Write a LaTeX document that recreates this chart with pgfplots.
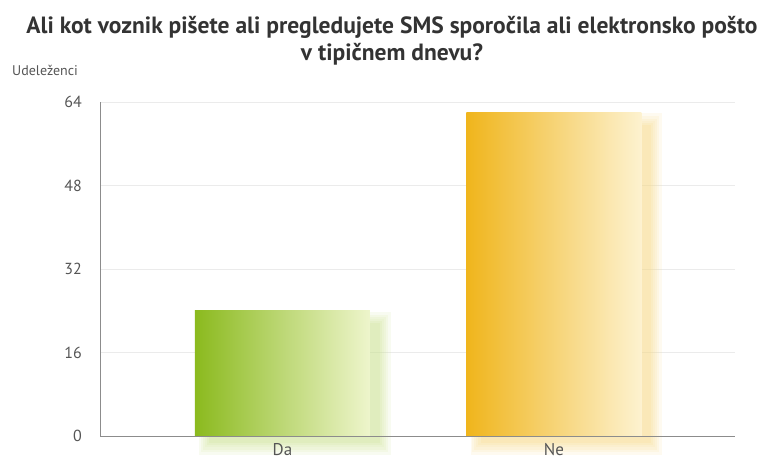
\documentclass[border=0pt]{standalone}
\usepackage{pgfplots}
\pgfplotsset{compat=1.18}
\usepackage{fontspec}
\setmainfont{PT Sans}
\definecolor{titlec}{HTML}{333333}
\definecolor{tickc}{HTML}{555555}
\definecolor{gridc}{HTML}{EBEBEB}
\definecolor{axc}{HTML}{8C8C8C}
\definecolor{gA}{HTML}{8BBA1E}
\definecolor{gB}{HTML}{EEF5CC}
\definecolor{gS}{HTML}{D2E5A0}
\definecolor{yA}{HTML}{F0B51C}
\definecolor{yB}{HTML}{FDF2D0}
\definecolor{yS}{HTML}{F7DE98}
\begin{document}
\begin{tikzpicture}
\useasboundingbox (0,0) rectangle (770pt,459pt);
\node[font=\fontsize{23.5}{27}\selectfont\bfseries, text=titlec, align=center] at (392pt,418pt)
  {Ali kot voznik pišete ali pregledujete SMS sporočila ali elektronsko pošto\\ v tipičnem dnevu?};
\node[font=\fontsize{14}{16}\selectfont, text=tickc, anchor=west, inner sep=0pt] at (12pt,389pt) {Udeleženci};
\begin{axis}[
  at={(100pt,23pt)}, anchor=south west,
  scale only axis, width=635pt, height=334pt,
  xmin=-0.672, xmax=1.667, ymin=0, ymax=64,
  clip=false,
  axis x line=none,
  axis y line*=left,
  y axis line style={draw=axc, line width=0.8pt, -},
  ytick={0,16,32,48,64},
  ymajorgrids, grid style={draw=gridc, line width=0.8pt},
  major tick length=0pt,
  /pgf/number format/assume math mode=true,
  yticklabel style={font=\fontsize{16}{18}\selectfont, text=tickc, inner sep=0pt, xshift=-18pt},
  xtick=\empty,
]
% shadows (layered for a soft edge)
\addplot[fill=gS, draw=none, opacity=0.15] coordinates {(-0.307,-3.6) (0.399,-3.6) (0.399,23.8) (-0.307,23.8)} -- cycle;
\addplot[fill=gS, draw=none, opacity=0.15] coordinates {(-0.300,-3.05) (0.388,-3.05) (0.388,23.25) (-0.300,23.25)} -- cycle;
\addplot[fill=gS, draw=none, opacity=0.15] coordinates {(-0.293,-2.6) (0.381,-2.6) (0.381,22.8) (-0.293,22.8)} -- cycle;
\addplot[fill=gS, draw=none, opacity=0.15] coordinates {(-0.286,-2.2) (0.374,-2.2) (0.374,22.4) (-0.286,22.4)} -- cycle;
\addplot[fill=gS, draw=none, opacity=0.2] coordinates {(-0.278,-1.8) (0.366,-1.8) (0.366,22.0) (-0.278,22.0)} -- cycle;
\addplot[fill=gS, draw=none, opacity=0.25] coordinates {(-0.270,-1.4) (0.358,-1.4) (0.358,21.6) (-0.270,21.6)} -- cycle;
\addplot[fill=yS, draw=none, opacity=0.15] coordinates {(0.693,-3.6) (1.399,-3.6) (1.399,61.8) (0.693,61.8)} -- cycle;
\addplot[fill=yS, draw=none, opacity=0.15] coordinates {(0.700,-3.05) (1.388,-3.05) (1.388,61.25) (0.700,61.25)} -- cycle;
\addplot[fill=yS, draw=none, opacity=0.15] coordinates {(0.707,-2.6) (1.381,-2.6) (1.381,60.8) (0.707,60.8)} -- cycle;
\addplot[fill=yS, draw=none, opacity=0.15] coordinates {(0.714,-2.2) (1.374,-2.2) (1.374,60.4) (0.714,60.4)} -- cycle;
\addplot[fill=yS, draw=none, opacity=0.2] coordinates {(0.722,-1.8) (1.366,-1.8) (1.366,60.0) (0.722,60.0)} -- cycle;
\addplot[fill=yS, draw=none, opacity=0.25] coordinates {(0.730,-1.4) (1.358,-1.4) (1.358,59.6) (0.730,59.6)} -- cycle;
% bars
\addplot[ybar, bar width=175pt, draw=none, left color=gA, right color=gB] coordinates {(0,24)};
\addplot[ybar, bar width=175pt, draw=none, left color=yA, right color=yB] coordinates {(1,62)};
% x axis line
\draw[axc, line width=0.8pt] (axis cs:-0.672,0) -- (axis cs:1.667,0);
\node[font=\fontsize{17}{19}\selectfont, text=tickc, anchor=north, inner sep=0pt] at (axis cs:0,-1.3) {Da};
\node[font=\fontsize{17}{19}\selectfont, text=tickc, anchor=north, inner sep=0pt] at (axis cs:1,-1.3) {Ne};
\end{axis}
\end{tikzpicture}
\end{document}
